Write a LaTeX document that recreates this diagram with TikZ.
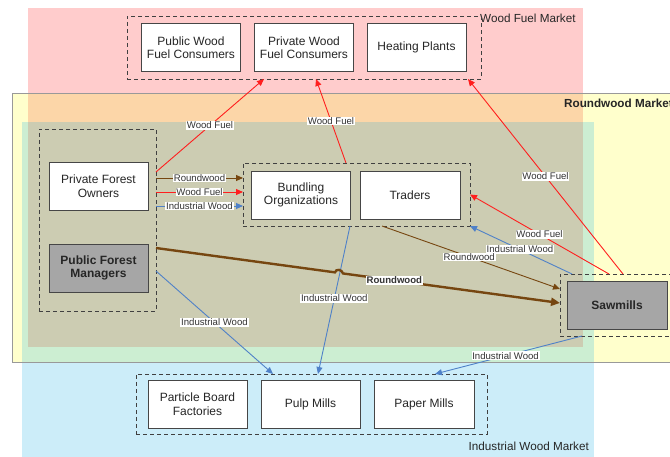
\documentclass[tikz,border=0pt]{standalone}
\usepackage{fontspec}
\setmainfont{Liberation Sans}
\usetikzlibrary{arrows.meta,calc}
\definecolor{mkred}{RGB}{255,204,204}
\definecolor{mkyellow}{RGB}{255,255,204}
\definecolor{mkblue}{RGB}{204,237,249}
\definecolor{mkorange}{RGB}{252,214,168}
\definecolor{mkmint}{RGB}{204,238,210}
\definecolor{mkolive}{RGB}{204,204,178}
\definecolor{arrred}{RGB}{255,30,30}
\definecolor{arrblue}{RGB}{79,129,200}
\definecolor{arrbrown}{RGB}{118,70,16}
\definecolor{boxgray}{RGB}{70,70,70}
\definecolor{darkfill}{RGB}{166,166,166}
\tikzset{
  mbox/.style={draw=boxgray, line width=0.9pt, fill=white, minimum width=99pt,
    minimum height=48pt, align=center, inner sep=1pt, text=black!85,
    font=\fontsize{12}{13.5}\selectfont},
  dbox/.style={mbox, fill=darkfill, font=\fontsize{12}{13.5}\selectfont\bfseries},
  grp/.style={draw=black!75, dash pattern=on 4pt off 3pt, line width=0.8pt,
    inner sep=0pt, outer sep=0pt},
  lbl/.style={fill=white, inner sep=0.8pt, text=black!80,
    font=\fontsize{9.6}{10.5}\selectfont},
  mktxt/.style={inner sep=0pt, text=black!85, font=\fontsize{11.7}{13}\selectfont},
  rline/.style={draw=arrred, line width=0.9pt, -{Triangle[length=7pt,width=6pt]}},
  bline/.style={draw=arrblue, line width=0.9pt, -{Triangle[length=7pt,width=6pt]}},
  wline/.style={draw=arrbrown, line width=0.9pt, -{Triangle[length=7pt,width=6pt]}},
  wthick/.style={draw=arrbrown, line width=2.4pt, -{Triangle[length=9pt,width=8pt]}}
}
\begin{document}
\begin{tikzpicture}[x=1pt,y=-1pt]
\useasboundingbox (0,0) rectangle (670,457);
\clip (0,0) rectangle (670,457);
% market regions
\fill[mkred] (28,8) rectangle (583,347);
\fill[mkyellow] (12,93) rectangle (690,362);
\fill[mkblue] (22,122) rectangle (594,470);
\fill[mkorange] (28,93) rectangle (583,122);
\fill[mkmint] (22,122) rectangle (594,362);
\fill[mkolive] (28,122) rectangle (583,347);
\draw[black!40, line width=0.6pt] (690,93) -- (12,93) -- (12,362) -- (690,362);
\node[mktxt, anchor=west] (wfm) at (480,18) {Wood Fuel Market};
\node[mktxt, anchor=west, font=\fontsize{11.7}{13}\selectfont\bfseries] (rwm) at (564,103) {Roundwood Market};
\node[mktxt, anchor=east] (iwm) at (589,446) {Industrial Wood Market};

% groups
\node[grp, minimum width=354pt, minimum height=63pt] (wfgrp) at (304,47.5) {};
\node[grp, minimum width=117pt, minimum height=182pt] (leftgrp) at (97.5,220) {};
\node[grp, minimum width=227pt, minimum height=63pt] (midgrp) at (356.5,194.5) {};
\node[grp, minimum width=120pt, minimum height=62pt] (sawgrp) at (620,305) {};
\node[grp, minimum width=351pt, minimum height=60pt] (botgrp) at (311.5,404) {};

% boxes
\node[mbox] (pwfc) at (191,47.5) {Public Wood\\Fuel Consumers};
\node[mbox] (prwfc) at (304,47.5) {Private Wood\\Fuel Consumers};
\node[mbox] (heat) at (416.5,47.5) {Heating Plants};
\node[mbox] (pfo) at (98.5,186) {Private Forest\\Owners};
\node[dbox] (pfm) at (98.5,268) {Public Forest\\Managers};
\node[mbox] (bund) at (301,195) {Bundling\\Organizations};
\node[mbox, minimum width=100pt] (trad) at (410,195) {Traders};
\node[dbox, minimum width=100pt] (saw) at (617,305) {Sawmills};
\node[mbox] (pbf) at (197.5,404) {Particle Board\\Factories};
\node[mbox] (pulp) at (310.5,404) {Pulp Mills};
\node[mbox, minimum width=100pt] (paper) at (424,404) {Paper Mills};

% wood fuel connectors
\draw[rline] ($(leftgrp.north east)+(0,43)$) -- node[lbl, pos=0.5] {Wood Fuel} ($(wfgrp.south west)+(137,0)$);
\draw[rline] ($(midgrp.north west)+(103,0)$) -- node[lbl, pos=0.5] {Wood Fuel} ($(wfgrp.south west)+(189,0)$);
\draw[rline] ($(sawgrp.north west)+(63,0)$) -- node[lbl, pos=0.5] {Wood Fuel} ($(wfgrp.south east)+(-13,0)$);
\draw[rline] ($(sawgrp.north west)+(49,0)$) -- node[lbl, pos=0.5] {Wood Fuel} (midgrp.east);
\draw[bline] ($(sawgrp.north west)+(12,0)$) -- node[lbl, pos=0.51] {Industrial Wood} (midgrp.south east);
\draw[wline] ($(midgrp.south west)+(139,0)$) -- node[lbl, pos=0.49] {Roundwood} ($(sawgrp.west)+(0,-16)$);

% private owners to bundling
\coordinate (r1) at ($(leftgrp.east)+(0,-42)$);
\coordinate (r2) at ($(leftgrp.east)+(0,-28)$);
\coordinate (r3) at ($(leftgrp.east)+(0,-14)$);
\draw[wline] (r1) -- node[lbl] {Roundwood} (r1 -| midgrp.west);
\draw[rline] (r2) -- node[lbl] {Wood Fuel} (r2 -| midgrp.west);
\draw[bline] (r3) -- node[lbl] {Industrial Wood} (r3 -| midgrp.west);

% industrial wood to bottom
\draw[bline] ($(leftgrp.east)+(0,51)$) -- node[lbl, pos=0.5] {Industrial Wood} ($(botgrp.north west)+(137,0)$);
\draw[bline] ($(midgrp.south west)+(107,0)$) -- node[lbl, pos=0.49] {Industrial Wood} ($(botgrp.north west)+(182,0)$);
\draw[bline] ($(sawgrp.south west)+(22,0)$) -- node[lbl, pos=0.52] {Industrial Wood} ($(botgrp.north west)+(299,0)$);

% thick roundwood with line jump
\coordinate (ta) at ($(leftgrp.east)+(0,28)$);
\coordinate (tb) at ($(sawgrp.west)+(0,-2)$);
\coordinate (j1) at ($(ta)!0.443!(tb)$);
\coordinate (j2) at ($(ta)!0.463!(tb)$);
\draw[wthick] (ta) -- (j1) .. controls ($(j1)+(1,-4)$) and ($(j2)+(-1,-4)$) .. (j2) -- (tb);
\node[lbl, font=\fontsize{9.6}{10.5}\selectfont\bfseries] (rwlbl) at ($(ta)!0.59!(tb)$) {Roundwood};
\end{tikzpicture}
\end{document}
